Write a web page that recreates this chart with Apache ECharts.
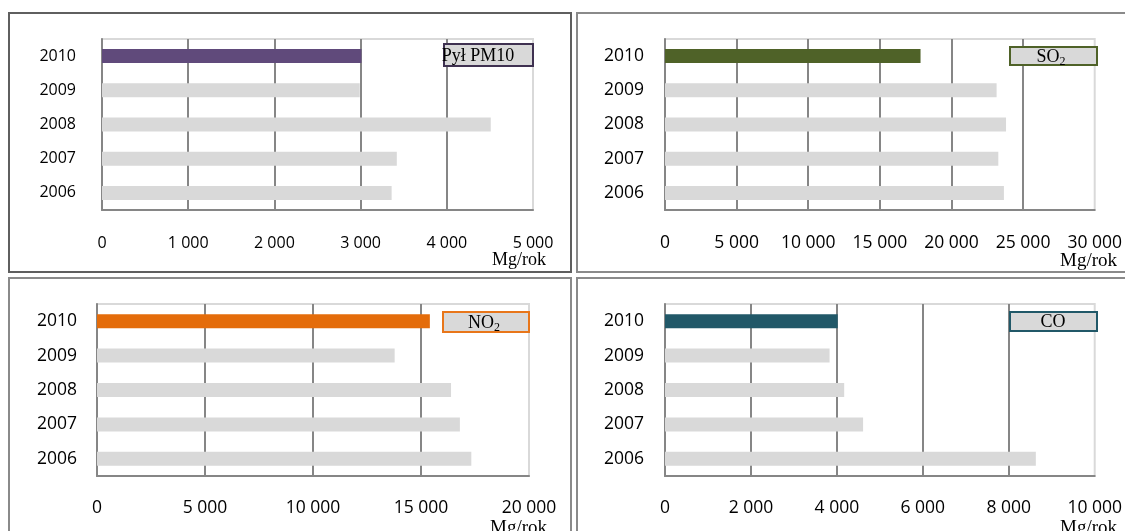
<!DOCTYPE html>
<html>
<head>
<meta charset="utf-8">
<script src="https://cdn.jsdelivr.net/npm/echarts@6/dist/echarts.min.js"></script>
<style>
  html, body { margin: 0; padding: 0; background: #ffffff; }
  #chart { width: 1125px; height: 531px; }
</style>
</head>
<body>
<div id="chart"></div>
<script>
// Annual emissions, Mg/rok
const years = ['2006', '2007', '2008', '2009', '2010'];
const pm10 = [3360, 3420, 4510, 2990, 3010];
const so2 = [23660, 23270, 23810, 23150, 17840];
const no2 = [17330, 16800, 16390, 13780, 15410];
const co = [8630, 4610, 4170, 3830, 4020];

const pm10Ticks = { max: 5000, interval: 1000 };
const so2Ticks = { max: 30000, interval: 5000 };
const no2Ticks = { max: 20000, interval: 5000 };
const coTicks = { max: 10000, interval: 2000 };

const unitLabel = 'Mg/rok';
const pollutantNames = ['Pył PM10', '{m|SO}{s|2}', '{m|NO}{s|2}', 'CO'];

const GRAY_BAR = '#d9d9d9';
const AXIS_GRAY = '#868686';
const SANS = '"Open Sans", "Liberation Sans", sans-serif';
const SERIF = '"Liberation Serif", "DejaVu Serif", serif';

const panels = [
  { data: pm10, ticks: pm10Ticks, color: '#604a7b', edge: '#3f3151',
    grid: { left: 102, top: 39, width: 431, height: 171 }, font: 16, yMargin: 26, xMargin: 25 },
  { data: so2, ticks: so2Ticks, color: '#4f6228', edge: '#4f6228',
    grid: { left: 665, top: 39, width: 432, height: 171 }, font: 17.5, yMargin: 21, xMargin: 24 },
  { data: no2, ticks: no2Ticks, color: '#e46c0a', edge: '#e8761a',
    grid: { left: 97, top: 304, width: 432, height: 172 }, font: 17.5, yMargin: 20, xMargin: 23 },
  { data: co, ticks: coTicks, color: '#215868', edge: '#215868',
    grid: { left: 665, top: 304, width: 432, height: 172 }, font: 17.5, yMargin: 21, xMargin: 23 }
];

function spaced(v) {
  return String(v).replace(/\B(?=(\d{3})+(?!\d))/g, ' ');
}

const grid = [], xAxis = [], yAxis = [], series = [];
panels.forEach(function (p, i) {
  grid.push(Object.assign({
    show: true, borderColor: '#d9d9d9', borderWidth: 2, backgroundColor: 'transparent'
  }, p.grid));
  xAxis.push({
    type: 'value', gridIndex: i, min: 0, max: p.ticks.max, interval: p.ticks.interval,
    axisLine: { show: true, lineStyle: { color: AXIS_GRAY, width: 2 } },
    axisTick: { show: false },
    axisLabel: { color: '#000', fontFamily: SANS, fontSize: p.font, margin: p.xMargin,
      formatter: spaced },
    splitLine: { show: true, showMinLine: false, showMaxLine: false,
      lineStyle: { color: AXIS_GRAY, width: 2 } }
  });
  yAxis.push({
    type: 'category', gridIndex: i, data: years,
    axisLine: { show: true, lineStyle: { color: AXIS_GRAY, width: 2 } },
    axisTick: { show: false },
    axisLabel: { color: '#000', fontFamily: SANS, fontSize: p.font, margin: p.yMargin },
    splitLine: { show: false }
  });
  series.push({
    type: 'bar', xAxisIndex: i, yAxisIndex: i, data: p.data, barWidth: 14,
    silent: true, animation: false,
    itemStyle: {
      color: function (d) { return d.dataIndex === years.length - 1 ? p.color : GRAY_BAR; }
    }
  });
});

// Panel frames, pollutant tags and unit captions
const frames = [
  { x: 9, y: 13, w: 562, h: 259, c: '#5f5f5f' },
  { x: 577, y: 13, w: 560, h: 259, c: '#8a8a8a' },
  { x: 9, y: 278, w: 562, h: 270, c: '#8a8a8a' },
  { x: 577, y: 278, w: 560, h: 270, c: '#8a8a8a' }
];
const tags = [
  { x: 444, y: 44, w: 89, h: 22, tx: 478 },
  { x: 1010, y: 47, w: 87, h: 18, tx: 1051 },
  { x: 443, y: 312, w: 86, h: 20, tx: 484 },
  { x: 1010, y: 312, w: 87, h: 19, tx: 1053 }
];
const units = [
  { x: 546, y: 260, s: 18 },
  { x: 1117, y: 261, s: 19 },
  { x: 547, y: 528, s: 19 },
  { x: 1117, y: 528, s: 19 }
];

const graphic = [];
frames.forEach(function (f) {
  graphic.push({ type: 'rect', silent: true, shape: { x: f.x, y: f.y, width: f.w, height: f.h },
    style: { fill: 'none', stroke: f.c, lineWidth: 2 }, z: 10 });
});
tags.forEach(function (t, i) {
  graphic.push({ type: 'rect', silent: true, shape: { x: t.x, y: t.y, width: t.w, height: t.h },
    style: { fill: '#d9d9d9', stroke: panels[i].edge, lineWidth: 2 }, z: 20 });
  graphic.push({ type: 'text', silent: true, z: 21,
    style: {
      text: pollutantNames[i], x: t.tx, y: t.y + t.h / 2 + 1, align: 'center', verticalAlign: 'middle',
      fill: '#000', fontFamily: SERIF, fontSize: 18,
      rich: {
        m: { fontFamily: SERIF, fontSize: 18, lineHeight: 22, verticalAlign: 'middle', fill: '#000' },
        s: { fontFamily: SERIF, fontSize: 12, lineHeight: 10, verticalAlign: 'bottom', fill: '#000' }
      }
    }
  });
});
units.forEach(function (u) {
  graphic.push({ type: 'text', silent: true, z: 21,
    style: { text: unitLabel, x: u.x, y: u.y, align: 'right', verticalAlign: 'middle',
      fill: '#000', fontFamily: SERIF, fontSize: u.s } });
});

const chart = echarts.init(document.getElementById('chart'), null, { renderer: 'canvas' });
chart.setOption({
  backgroundColor: '#ffffff',
  animation: false,
  grid: grid,
  xAxis: xAxis,
  yAxis: yAxis,
  series: series,
  graphic: graphic
});
</script>
</body>
</html>
